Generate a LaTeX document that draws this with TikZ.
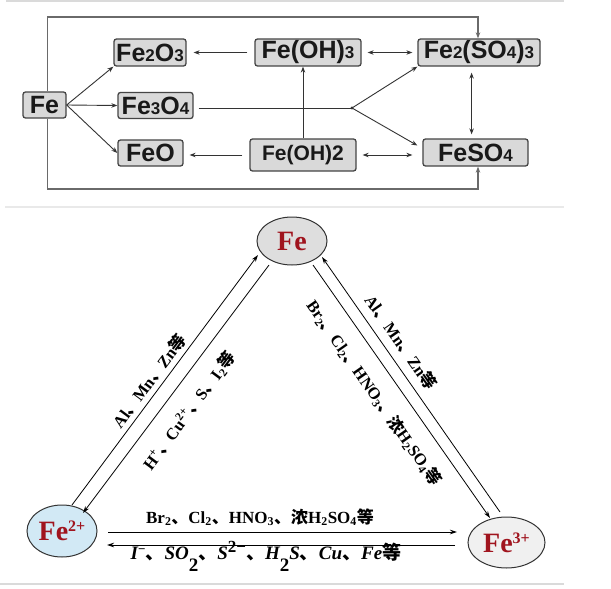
\documentclass[tikz,border=0pt]{standalone}
\usepackage{fontspec}
\setmainfont{Liberation Serif}
\newfontfamily\arialf{Liberation Sans}
\newfontfamily\cjk{Noto Sans CJK SC}
\usetikzlibrary{arrows.meta,calc,shapes.geometric}
\newcommand\zh[1]{{\cjk #1}}
\newcommand\dg[1]{{\fontsize{17}{17}\selectfont #1}}
\newcommand\sbs[1]{\textsubscript{#1}}
\newcommand\lowtwo{\raisebox{-12pt}{\upshape 2}}
\definecolor{boxfill}{HTML}{D9D9D9}
\definecolor{boxborder}{HTML}{454545}
\definecolor{lncol}{HTML}{333333}
\definecolor{loopcol}{HTML}{6A6A6A}
\definecolor{sepcol}{HTML}{DADADA}
\definecolor{ionred}{HTML}{A0141E}
\definecolor{fegray}{HTML}{DEDEDE}
\definecolor{feblue}{HTML}{D2E9F5}
\definecolor{fewhite}{HTML}{F0F0F0}
\begin{document}
\begin{tikzpicture}[x=1pt,y=-1pt,
  box/.style={draw=boxborder, fill=boxfill, rounded corners=2.5pt, line width=1.3pt, inner sep=0pt, text=black!90, font=\arialf\bfseries\fontsize{25}{25}\selectfont},
  ln/.style={draw=lncol, line width=0.9pt},
  arr/.style={ln, -{Stealth[length=6pt,width=4.5pt]}},
  darr/.style={ln, {Stealth[length=6pt,width=4.5pt]}-{Stealth[length=6pt,width=4.5pt]}},
  loopln/.style={draw=loopcol, line width=1.3pt},
  ion/.style={ellipse, draw=black!80, line width=1pt, inner sep=0pt, text=ionred, font=\bfseries\fontsize{28}{28}\selectfont},
  barr/.style={draw=black, line width=0.8pt, -{Stealth[length=7pt,width=4.5pt]}},
  lbl/.style={font=\bfseries\fontsize{16.5}{16.5}\selectfont, inner sep=0pt},
  ilbl/.style={font=\bfseries\itshape\fontsize{19}{19}\selectfont, inner sep=0pt}
]
\useasboundingbox (0,0) rectangle (611,589);
\fill[white] (0,0) rectangle (611,589);
% separators
\draw[sepcol, line width=1.5pt] (6,0.8) -- (564,0.8);
\draw[sepcol!60, line width=1.2pt] (5,207) -- (564,207);
\draw[sepcol, line width=1.5pt] (0,584) -- (564,584);

% ---------- top diagram ----------
\node[box, minimum width=43, minimum height=26] (Fe) at (44.5,105) {Fe};
\node[box, minimum width=72, minimum height=27] (FeTwoOThree) at (150,52.5) {Fe\dg{2}O\dg{3}};
\node[box, minimum width=75, minimum height=26] (FeThreeOFour) at (155.5,105.5) {Fe\dg{3}O\dg{4}};
\node[box, minimum width=65, minimum height=26] (FeO) at (150.5,153) {FeO};
\node[box, minimum width=106, minimum height=27] (OHThree) at (308,52.5) {Fe(OH)\dg{3}};
\node[box, minimum width=106, minimum height=32, font=\arialf\bfseries\fontsize{21}{21}\selectfont] (OHTwo) at (303,155) {Fe(OH)2};
\node[box, minimum width=122, minimum height=27] (SThree) at (479,52.5) {Fe\dg{2}(SO\dg{4})\dg{3}};
\node[box, minimum width=105, minimum height=27] (SFour) at (475.5,152.5) {FeSO\dg{4}};

\coordinate (LT) at (47.5,17);
\coordinate (LB) at (47.5,189);
\coordinate (RT) at (478,17);
\coordinate (RB) at (478,189);
\draw[loopln, -{Stealth[length=6pt,width=4.5pt]}] (Fe.north -| LT) -- (LT) -- (RT) -- (SThree.north -| RT);
\draw[loopln, -{Stealth[length=6pt,width=4.5pt]}] (Fe.south -| LB) -- (LB) -- (RB) -- (SFour.south -| RB);

\draw[arr] (Fe.east) -- (FeTwoOThree.south west);
\draw[arr] (Fe.east) -- (FeThreeOFour.west);
\draw[arr] (Fe.east) -- (FeO.west);

\draw[arr, shorten <=7pt, shorten >=7pt] (OHThree.west) -- (FeTwoOThree.east);
\draw[darr, shorten <=6pt, shorten >=5pt] (OHThree.east) -- (SThree.west);
\draw[arr] (OHTwo.north) -- (OHTwo.north |- OHThree.south);
\draw[arr, shorten <=7pt, shorten >=6pt] (OHTwo.west) -- (OHTwo.west -| FeO.east);
\draw[darr, shorten <=6pt, shorten >=10pt] (OHTwo.east) -- (OHTwo.east -| SFour.west);

\coordinate (J) at (352,108);
\coordinate (VX) at (471.6,100);
\draw[ln, shorten <=5pt] (FeThreeOFour.east |- J) -- (J);
\fill[lncol] (J) circle (1.7);
\draw[arr] (J) -- (SThree.south west);
\draw[arr] (J) -- ($(SFour.west)+(-5,-7)$);
\draw[darr, shorten <=6pt, shorten >=4pt] (SThree.south -| VX) -- (SFour.north -| VX);

% ---------- bottom diagram ----------
\node[ion, fill=fegray, minimum width=70, minimum height=48] (FeZ) at (292,241) {Fe};
\node[ion, fill=feblue, minimum width=70, minimum height=52] (FeII) at (62,531) {Fe\raisebox{9pt}{\fontsize{16}{16}\selectfont 2+}};
\node[ion, fill=fewhite, minimum width=77, minimum height=51] (FeIII) at (506.5,542.5) {Fe\raisebox{9pt}{\fontsize{16}{16}\selectfont 3+}};

\coordinate (a1) at (72,505);   \coordinate (a2) at (258,255);
\coordinate (b1) at (269,265);  \coordinate (b2) at (83,513);
\coordinate (c1) at (500,512);  \coordinate (c2) at (322,257);
\coordinate (d1) at (313,265);  \coordinate (d2) at (490,518);
\coordinate (e1) at (108,532);  \coordinate (e2) at (457,532);
\coordinate (f1) at (455,545);  \coordinate (f2) at (107,545);
\draw[barr] (a1) -- (a2);
\draw[barr] (b1) -- (b2);
\draw[barr] (c1) -- (c2);
\draw[barr] (d1) -- (d2);
\draw[barr] (e1) -- (e2);
\draw[barr] (f1) -- (f2);

\node[lbl, rotate=53.3] (LA) at (149,381) {Al\zh{、}Mn\zh{、}Zn\zh{等}};
\node[lbl, rotate=53.3] (LB2) at (189,411) {H\textsuperscript{+}\zh{、}Cu\textsuperscript{2+}\zh{、}S\zh{、}I\sbs{2}\zh{等}};
\node[lbl, rotate=-55] (LC) at (401,342) {Al\zh{、}Mn\zh{、}Zn\zh{等}};
\node[lbl, rotate=-55] (LD) at (374,393) {Br\sbs{2}\zh{、}Cl\sbs{2}\zh{、}HNO\sbs{3}\zh{、}\zh{浓}H\sbs{2}SO\sbs{4}\zh{等}};
\node[lbl, font=\bfseries\fontsize{17}{17}\selectfont] (LE) at (260,517) {Br\sbs{2}\zh{、}Cl\sbs{2}\zh{、}HNO\sbs{3}\zh{、}\zh{浓}H\sbs{2}SO\sbs{4}\zh{等}};
\node[ilbl] (LF) at (266,556) {I\raisebox{6pt}{\upshape\fontsize{13}{13}\selectfont −}\zh{、}SO\lowtwo\zh{、}S\raisebox{7pt}{\upshape\fontsize{17}{17}\selectfont 2−}\zh{、}H\lowtwo S\zh{、}Cu\zh{、}Fe\zh{等}};
\end{tikzpicture}
\end{document}
